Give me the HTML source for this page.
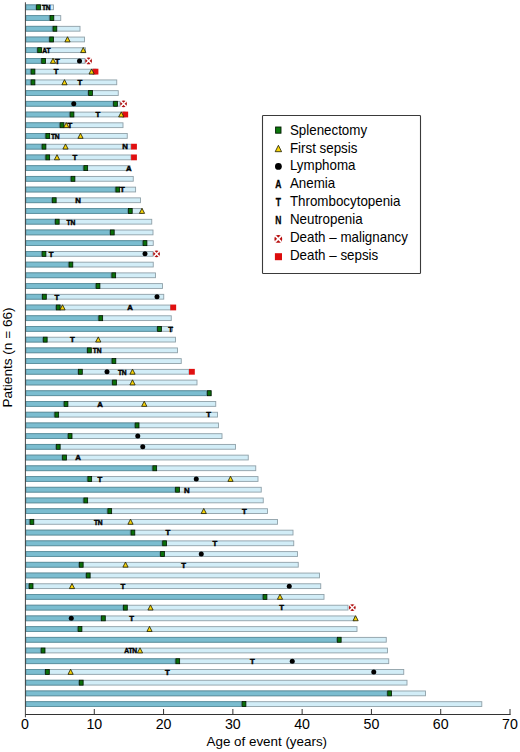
<!DOCTYPE html>
<html><head><meta charset="utf-8"><style>
html,body{margin:0;padding:0;background:#fff;width:520px;height:752px;overflow:hidden}
svg{display:block}
text{font-family:"Liberation Sans",sans-serif;fill:#000}
.m{font-size:7.8px;font-weight:bold;stroke:#000;stroke-width:0.45px}
.ml{font-size:10px;font-weight:bold;stroke:#000;stroke-width:0.3px}
.tk{font-size:14.2px}
.lab{font-size:13px}
.lg{font-size:14px}
</style></head><body>
<svg width="520" height="752" viewBox="0 0 520 752">
<rect width="520" height="752" fill="#fff"/>
<rect x="25.9" y="4.9" width="27.6" height="4.8" fill="#d2edf7" stroke="#8fa0a8" stroke-width="0.9"/>
<rect x="25.9" y="4.9" width="9.9" height="4.8" fill="#7bbdd0" stroke="#5a909e" stroke-width="0.9"/>
<rect x="25.9" y="15.62" width="34.85" height="4.8" fill="#d2edf7" stroke="#8fa0a8" stroke-width="0.9"/>
<rect x="25.9" y="15.62" width="23.3" height="4.8" fill="#7bbdd0" stroke="#5a909e" stroke-width="0.9"/>
<rect x="25.9" y="26.34" width="54.1" height="4.8" fill="#d2edf7" stroke="#8fa0a8" stroke-width="0.9"/>
<rect x="25.9" y="26.34" width="26.3" height="4.8" fill="#7bbdd0" stroke="#5a909e" stroke-width="0.9"/>
<rect x="25.9" y="37.06" width="58.6" height="4.8" fill="#d2edf7" stroke="#8fa0a8" stroke-width="0.9"/>
<rect x="25.9" y="37.06" width="23" height="4.8" fill="#7bbdd0" stroke="#5a909e" stroke-width="0.9"/>
<rect x="25.9" y="47.78" width="59.6" height="4.8" fill="#d2edf7" stroke="#8fa0a8" stroke-width="0.9"/>
<rect x="25.9" y="47.78" width="11" height="4.8" fill="#7bbdd0" stroke="#5a909e" stroke-width="0.9"/>
<rect x="25.9" y="58.5" width="59.1" height="4.8" fill="#d2edf7" stroke="#8fa0a8" stroke-width="0.9"/>
<rect x="25.9" y="58.5" width="15" height="4.8" fill="#7bbdd0" stroke="#5a909e" stroke-width="0.9"/>
<rect x="25.9" y="69.22" width="70.1" height="4.8" fill="#d2edf7" stroke="#8fa0a8" stroke-width="0.9"/>
<rect x="25.9" y="69.22" width="4.4" height="4.8" fill="#7bbdd0" stroke="#5a909e" stroke-width="0.9"/>
<rect x="25.9" y="79.94" width="90.85" height="4.8" fill="#d2edf7" stroke="#8fa0a8" stroke-width="0.9"/>
<rect x="25.9" y="79.94" width="4.4" height="4.8" fill="#7bbdd0" stroke="#5a909e" stroke-width="0.9"/>
<rect x="25.9" y="90.66" width="92.35" height="4.8" fill="#d2edf7" stroke="#8fa0a8" stroke-width="0.9"/>
<rect x="25.9" y="90.66" width="61.9" height="4.8" fill="#7bbdd0" stroke="#5a909e" stroke-width="0.9"/>
<rect x="25.9" y="101.38" width="94.1" height="4.8" fill="#d2edf7" stroke="#8fa0a8" stroke-width="0.9"/>
<rect x="25.9" y="101.38" width="86.9" height="4.8" fill="#7bbdd0" stroke="#5a909e" stroke-width="0.9"/>
<rect x="25.9" y="112.1" width="99.1" height="4.8" fill="#d2edf7" stroke="#8fa0a8" stroke-width="0.9"/>
<rect x="25.9" y="112.1" width="43.4" height="4.8" fill="#7bbdd0" stroke="#5a909e" stroke-width="0.9"/>
<rect x="25.9" y="122.82" width="97.1" height="4.8" fill="#d2edf7" stroke="#8fa0a8" stroke-width="0.9"/>
<rect x="25.9" y="122.82" width="33.4" height="4.8" fill="#7bbdd0" stroke="#5a909e" stroke-width="0.9"/>
<rect x="25.9" y="133.54" width="101.35" height="4.8" fill="#d2edf7" stroke="#8fa0a8" stroke-width="0.9"/>
<rect x="25.9" y="133.54" width="19.15" height="4.8" fill="#7bbdd0" stroke="#5a909e" stroke-width="0.9"/>
<rect x="25.9" y="144.26" width="105.1" height="4.8" fill="#d2edf7" stroke="#8fa0a8" stroke-width="0.9"/>
<rect x="25.9" y="144.26" width="15.4" height="4.8" fill="#7bbdd0" stroke="#5a909e" stroke-width="0.9"/>
<rect x="25.9" y="154.98" width="105.1" height="4.8" fill="#d2edf7" stroke="#8fa0a8" stroke-width="0.9"/>
<rect x="25.9" y="154.98" width="19.15" height="4.8" fill="#7bbdd0" stroke="#5a909e" stroke-width="0.9"/>
<rect x="25.9" y="165.7" width="104.1" height="4.8" fill="#d2edf7" stroke="#8fa0a8" stroke-width="0.9"/>
<rect x="25.9" y="165.7" width="57.15" height="4.8" fill="#7bbdd0" stroke="#5a909e" stroke-width="0.9"/>
<rect x="25.9" y="176.42" width="107.35" height="4.8" fill="#d2edf7" stroke="#8fa0a8" stroke-width="0.9"/>
<rect x="25.9" y="176.42" width="44.4" height="4.8" fill="#7bbdd0" stroke="#5a909e" stroke-width="0.9"/>
<rect x="25.9" y="187.14" width="109.7" height="4.8" fill="#d2edf7" stroke="#8fa0a8" stroke-width="0.9"/>
<rect x="25.9" y="187.14" width="89.15" height="4.8" fill="#7bbdd0" stroke="#5a909e" stroke-width="0.9"/>
<rect x="25.9" y="197.86" width="114.6" height="4.8" fill="#d2edf7" stroke="#8fa0a8" stroke-width="0.9"/>
<rect x="25.9" y="197.86" width="25.65" height="4.8" fill="#7bbdd0" stroke="#5a909e" stroke-width="0.9"/>
<rect x="25.9" y="208.58" width="116.1" height="4.8" fill="#d2edf7" stroke="#8fa0a8" stroke-width="0.9"/>
<rect x="25.9" y="208.58" width="101.7" height="4.8" fill="#7bbdd0" stroke="#5a909e" stroke-width="0.9"/>
<rect x="25.9" y="219.3" width="125.85" height="4.8" fill="#d2edf7" stroke="#8fa0a8" stroke-width="0.9"/>
<rect x="25.9" y="219.3" width="28.65" height="4.8" fill="#7bbdd0" stroke="#5a909e" stroke-width="0.9"/>
<rect x="25.9" y="230.02" width="127.1" height="4.8" fill="#d2edf7" stroke="#8fa0a8" stroke-width="0.9"/>
<rect x="25.9" y="230.02" width="83.7" height="4.8" fill="#7bbdd0" stroke="#5a909e" stroke-width="0.9"/>
<rect x="25.9" y="240.74" width="127.35" height="4.8" fill="#d2edf7" stroke="#8fa0a8" stroke-width="0.9"/>
<rect x="25.9" y="240.74" width="116.4" height="4.8" fill="#7bbdd0" stroke="#5a909e" stroke-width="0.9"/>
<rect x="25.9" y="251.46" width="127.1" height="4.8" fill="#d2edf7" stroke="#8fa0a8" stroke-width="0.9"/>
<rect x="25.9" y="251.46" width="15.4" height="4.8" fill="#7bbdd0" stroke="#5a909e" stroke-width="0.9"/>
<rect x="25.9" y="262.18" width="127.35" height="4.8" fill="#d2edf7" stroke="#8fa0a8" stroke-width="0.9"/>
<rect x="25.9" y="262.18" width="42.3" height="4.8" fill="#7bbdd0" stroke="#5a909e" stroke-width="0.9"/>
<rect x="25.9" y="272.9" width="129.6" height="4.8" fill="#d2edf7" stroke="#8fa0a8" stroke-width="0.9"/>
<rect x="25.9" y="272.9" width="85.15" height="4.8" fill="#7bbdd0" stroke="#5a909e" stroke-width="0.9"/>
<rect x="25.9" y="283.62" width="136.6" height="4.8" fill="#d2edf7" stroke="#8fa0a8" stroke-width="0.9"/>
<rect x="25.9" y="283.62" width="69.4" height="4.8" fill="#7bbdd0" stroke="#5a909e" stroke-width="0.9"/>
<rect x="25.9" y="294.34" width="137.85" height="4.8" fill="#d2edf7" stroke="#8fa0a8" stroke-width="0.9"/>
<rect x="25.9" y="294.34" width="15.8" height="4.8" fill="#7bbdd0" stroke="#5a909e" stroke-width="0.9"/>
<rect x="25.9" y="305.06" width="144.6" height="4.8" fill="#d2edf7" stroke="#8fa0a8" stroke-width="0.9"/>
<rect x="25.9" y="305.06" width="29.65" height="4.8" fill="#7bbdd0" stroke="#5a909e" stroke-width="0.9"/>
<rect x="25.9" y="315.78" width="145.35" height="4.8" fill="#d2edf7" stroke="#8fa0a8" stroke-width="0.9"/>
<rect x="25.9" y="315.78" width="72.15" height="4.8" fill="#7bbdd0" stroke="#5a909e" stroke-width="0.9"/>
<rect x="25.9" y="326.5" width="146.6" height="4.8" fill="#d2edf7" stroke="#8fa0a8" stroke-width="0.9"/>
<rect x="25.9" y="326.5" width="130.9" height="4.8" fill="#7bbdd0" stroke="#5a909e" stroke-width="0.9"/>
<rect x="25.9" y="337.22" width="149.6" height="4.8" fill="#d2edf7" stroke="#8fa0a8" stroke-width="0.9"/>
<rect x="25.9" y="337.22" width="16.65" height="4.8" fill="#7bbdd0" stroke="#5a909e" stroke-width="0.9"/>
<rect x="25.9" y="347.94" width="151.6" height="4.8" fill="#d2edf7" stroke="#8fa0a8" stroke-width="0.9"/>
<rect x="25.9" y="347.94" width="60.8" height="4.8" fill="#7bbdd0" stroke="#5a909e" stroke-width="0.9"/>
<rect x="25.9" y="358.66" width="155.35" height="4.8" fill="#d2edf7" stroke="#8fa0a8" stroke-width="0.9"/>
<rect x="25.9" y="358.66" width="85.3" height="4.8" fill="#7bbdd0" stroke="#5a909e" stroke-width="0.9"/>
<rect x="25.9" y="369.38" width="163.1" height="4.8" fill="#d2edf7" stroke="#8fa0a8" stroke-width="0.9"/>
<rect x="25.9" y="369.38" width="51.8" height="4.8" fill="#7bbdd0" stroke="#5a909e" stroke-width="0.9"/>
<rect x="25.9" y="380.1" width="171.1" height="4.8" fill="#d2edf7" stroke="#8fa0a8" stroke-width="0.9"/>
<rect x="25.9" y="380.1" width="85.9" height="4.8" fill="#7bbdd0" stroke="#5a909e" stroke-width="0.9"/>
<rect x="25.9" y="390.82" width="185.1" height="4.8" fill="#d2edf7" stroke="#8fa0a8" stroke-width="0.9"/>
<rect x="25.9" y="390.82" width="180.65" height="4.8" fill="#7bbdd0" stroke="#5a909e" stroke-width="0.9"/>
<rect x="25.9" y="401.54" width="189.85" height="4.8" fill="#d2edf7" stroke="#8fa0a8" stroke-width="0.9"/>
<rect x="25.9" y="401.54" width="37.4" height="4.8" fill="#7bbdd0" stroke="#5a909e" stroke-width="0.9"/>
<rect x="25.9" y="412.26" width="191.6" height="4.8" fill="#d2edf7" stroke="#8fa0a8" stroke-width="0.9"/>
<rect x="25.9" y="412.26" width="28.15" height="4.8" fill="#7bbdd0" stroke="#5a909e" stroke-width="0.9"/>
<rect x="25.9" y="422.98" width="192.6" height="4.8" fill="#d2edf7" stroke="#8fa0a8" stroke-width="0.9"/>
<rect x="25.9" y="422.98" width="108.5" height="4.8" fill="#7bbdd0" stroke="#5a909e" stroke-width="0.9"/>
<rect x="25.9" y="433.7" width="196.1" height="4.8" fill="#d2edf7" stroke="#8fa0a8" stroke-width="0.9"/>
<rect x="25.9" y="433.7" width="41.5" height="4.8" fill="#7bbdd0" stroke="#5a909e" stroke-width="0.9"/>
<rect x="25.9" y="444.42" width="209.6" height="4.8" fill="#d2edf7" stroke="#8fa0a8" stroke-width="0.9"/>
<rect x="25.9" y="444.42" width="29.65" height="4.8" fill="#7bbdd0" stroke="#5a909e" stroke-width="0.9"/>
<rect x="25.9" y="455.14" width="222.35" height="4.8" fill="#d2edf7" stroke="#8fa0a8" stroke-width="0.9"/>
<rect x="25.9" y="455.14" width="35.9" height="4.8" fill="#7bbdd0" stroke="#5a909e" stroke-width="0.9"/>
<rect x="25.9" y="465.86" width="229.85" height="4.8" fill="#d2edf7" stroke="#8fa0a8" stroke-width="0.9"/>
<rect x="25.9" y="465.86" width="126.15" height="4.8" fill="#7bbdd0" stroke="#5a909e" stroke-width="0.9"/>
<rect x="25.9" y="476.58" width="232.1" height="4.8" fill="#d2edf7" stroke="#8fa0a8" stroke-width="0.9"/>
<rect x="25.9" y="476.58" width="61.15" height="4.8" fill="#7bbdd0" stroke="#5a909e" stroke-width="0.9"/>
<rect x="25.9" y="487.3" width="235.35" height="4.8" fill="#d2edf7" stroke="#8fa0a8" stroke-width="0.9"/>
<rect x="25.9" y="487.3" width="148.9" height="4.8" fill="#7bbdd0" stroke="#5a909e" stroke-width="0.9"/>
<rect x="25.9" y="498.02" width="237.35" height="4.8" fill="#d2edf7" stroke="#8fa0a8" stroke-width="0.9"/>
<rect x="25.9" y="498.02" width="57.15" height="4.8" fill="#7bbdd0" stroke="#5a909e" stroke-width="0.9"/>
<rect x="25.9" y="508.74" width="241.6" height="4.8" fill="#d2edf7" stroke="#8fa0a8" stroke-width="0.9"/>
<rect x="25.9" y="508.74" width="81.15" height="4.8" fill="#7bbdd0" stroke="#5a909e" stroke-width="0.9"/>
<rect x="25.9" y="519.46" width="251.6" height="4.8" fill="#d2edf7" stroke="#8fa0a8" stroke-width="0.9"/>
<rect x="25.9" y="519.46" width="3.3" height="4.8" fill="#7bbdd0" stroke="#5a909e" stroke-width="0.9"/>
<rect x="25.9" y="530.18" width="267.1" height="4.8" fill="#d2edf7" stroke="#8fa0a8" stroke-width="0.9"/>
<rect x="25.9" y="530.18" width="104.3" height="4.8" fill="#7bbdd0" stroke="#5a909e" stroke-width="0.9"/>
<rect x="25.9" y="540.9" width="267.85" height="4.8" fill="#d2edf7" stroke="#8fa0a8" stroke-width="0.9"/>
<rect x="25.9" y="540.9" width="136" height="4.8" fill="#7bbdd0" stroke="#5a909e" stroke-width="0.9"/>
<rect x="25.9" y="551.62" width="271.6" height="4.8" fill="#d2edf7" stroke="#8fa0a8" stroke-width="0.9"/>
<rect x="25.9" y="551.62" width="133.9" height="4.8" fill="#7bbdd0" stroke="#5a909e" stroke-width="0.9"/>
<rect x="25.9" y="562.34" width="272.35" height="4.8" fill="#d2edf7" stroke="#8fa0a8" stroke-width="0.9"/>
<rect x="25.9" y="562.34" width="52.65" height="4.8" fill="#7bbdd0" stroke="#5a909e" stroke-width="0.9"/>
<rect x="25.9" y="573.06" width="293.6" height="4.8" fill="#d2edf7" stroke="#8fa0a8" stroke-width="0.9"/>
<rect x="25.9" y="573.06" width="59.65" height="4.8" fill="#7bbdd0" stroke="#5a909e" stroke-width="0.9"/>
<rect x="25.9" y="583.78" width="294.85" height="4.8" fill="#d2edf7" stroke="#8fa0a8" stroke-width="0.9"/>
<rect x="25.9" y="583.78" width="2.5" height="4.8" fill="#7bbdd0" stroke="#5a909e" stroke-width="0.9"/>
<rect x="25.9" y="594.5" width="298.1" height="4.8" fill="#d2edf7" stroke="#8fa0a8" stroke-width="0.9"/>
<rect x="25.9" y="594.5" width="236.4" height="4.8" fill="#7bbdd0" stroke="#5a909e" stroke-width="0.9"/>
<rect x="25.9" y="605.22" width="322.1" height="4.8" fill="#d2edf7" stroke="#8fa0a8" stroke-width="0.9"/>
<rect x="25.9" y="605.22" width="96.8" height="4.8" fill="#7bbdd0" stroke="#5a909e" stroke-width="0.9"/>
<rect x="25.9" y="615.94" width="328.6" height="4.8" fill="#d2edf7" stroke="#8fa0a8" stroke-width="0.9"/>
<rect x="25.9" y="615.94" width="74.8" height="4.8" fill="#7bbdd0" stroke="#5a909e" stroke-width="0.9"/>
<rect x="25.9" y="626.66" width="331.1" height="4.8" fill="#d2edf7" stroke="#8fa0a8" stroke-width="0.9"/>
<rect x="25.9" y="626.66" width="51.4" height="4.8" fill="#7bbdd0" stroke="#5a909e" stroke-width="0.9"/>
<rect x="25.9" y="637.38" width="360.35" height="4.8" fill="#d2edf7" stroke="#8fa0a8" stroke-width="0.9"/>
<rect x="25.9" y="637.38" width="310.65" height="4.8" fill="#7bbdd0" stroke="#5a909e" stroke-width="0.9"/>
<rect x="25.9" y="648.1" width="361.6" height="4.8" fill="#d2edf7" stroke="#8fa0a8" stroke-width="0.9"/>
<rect x="25.9" y="648.1" width="14.5" height="4.8" fill="#7bbdd0" stroke="#5a909e" stroke-width="0.9"/>
<rect x="25.9" y="658.82" width="362.85" height="4.8" fill="#d2edf7" stroke="#8fa0a8" stroke-width="0.9"/>
<rect x="25.9" y="658.82" width="149.15" height="4.8" fill="#7bbdd0" stroke="#5a909e" stroke-width="0.9"/>
<rect x="25.9" y="669.54" width="377.85" height="4.8" fill="#d2edf7" stroke="#8fa0a8" stroke-width="0.9"/>
<rect x="25.9" y="669.54" width="18.8" height="4.8" fill="#7bbdd0" stroke="#5a909e" stroke-width="0.9"/>
<rect x="25.9" y="680.26" width="381.1" height="4.8" fill="#d2edf7" stroke="#8fa0a8" stroke-width="0.9"/>
<rect x="25.9" y="680.26" width="52.65" height="4.8" fill="#7bbdd0" stroke="#5a909e" stroke-width="0.9"/>
<rect x="25.9" y="690.98" width="399.6" height="4.8" fill="#d2edf7" stroke="#8fa0a8" stroke-width="0.9"/>
<rect x="25.9" y="690.98" width="361" height="4.8" fill="#7bbdd0" stroke="#5a909e" stroke-width="0.9"/>
<rect x="25.9" y="701.7" width="455.9" height="4.8" fill="#d2edf7" stroke="#8fa0a8" stroke-width="0.9"/>
<rect x="25.9" y="701.7" width="215.4" height="4.8" fill="#7bbdd0" stroke="#5a909e" stroke-width="0.9"/>
<rect x="36.6" y="4.8" width="3.8" height="5" fill="#0a700a" stroke="#001400" stroke-width="0.8"/>
<text transform="translate(42,10.1) scale(0.86,1)" class="m" letter-spacing="-0.3">TN</text>
<rect x="50" y="15.52" width="3.8" height="5" fill="#0a700a" stroke="#001400" stroke-width="0.8"/>
<rect x="53" y="26.24" width="3.8" height="5" fill="#0a700a" stroke="#001400" stroke-width="0.8"/>
<rect x="49.7" y="36.96" width="3.8" height="5" fill="#0a700a" stroke="#001400" stroke-width="0.8"/>
<path d="M67.5 36.76L70.1 41.86L64.9 41.86Z" fill="#f7d40a" stroke="#1a1a00" stroke-width="0.8" stroke-linejoin="round"/>
<rect x="37.7" y="47.68" width="3.8" height="5" fill="#0a700a" stroke="#001400" stroke-width="0.8"/>
<text transform="translate(42.3,52.98) scale(0.86,1)" class="m" letter-spacing="-0.3">AT</text>
<path d="M83.25 47.48L85.85 52.58L80.65 52.58Z" fill="#f7d40a" stroke="#1a1a00" stroke-width="0.8" stroke-linejoin="round"/>
<rect x="41.7" y="58.4" width="3.8" height="5" fill="#0a700a" stroke="#001400" stroke-width="0.8"/>
<g transform="translate(88.6,60.9)"><circle r="3.35" fill="#b01010"/><path d="M-2.6 -2.6L2.6 2.6M2.6 -2.6L-2.6 2.6" stroke="#fff" stroke-width="1.5"/></g>
<path d="M53 58.2L55.6 63.3L50.4 63.3Z" fill="#f7d40a" stroke="#1a1a00" stroke-width="0.8" stroke-linejoin="round"/>
<text x="57.5" y="63.7" class="m" text-anchor="middle">T</text>
<circle cx="79.5" cy="60.9" r="2.5" fill="#000"/>
<rect x="31.1" y="69.12" width="3.8" height="5" fill="#0a700a" stroke="#001400" stroke-width="0.8"/>
<rect x="92.6" y="68.72" width="5.8" height="5.8" fill="#e01010"/>
<text x="56.25" y="74.42" class="m" text-anchor="middle">T</text>
<path d="M91.6 68.92L94.2 74.02L89 74.02Z" fill="#f7d40a" stroke="#1a1a00" stroke-width="0.8" stroke-linejoin="round"/>
<rect x="31.1" y="79.84" width="3.8" height="5" fill="#0a700a" stroke="#001400" stroke-width="0.8"/>
<path d="M64.5 79.64L67.1 84.74L61.9 84.74Z" fill="#f7d40a" stroke="#1a1a00" stroke-width="0.8" stroke-linejoin="round"/>
<text x="80" y="85.14" class="m" text-anchor="middle">T</text>
<rect x="88.6" y="90.56" width="3.8" height="5" fill="#0a700a" stroke="#001400" stroke-width="0.8"/>
<rect x="113.6" y="101.28" width="3.8" height="5" fill="#0a700a" stroke="#001400" stroke-width="0.8"/>
<g transform="translate(123.55,103.78)"><circle r="3.35" fill="#b01010"/><path d="M-2.6 -2.6L2.6 2.6M2.6 -2.6L-2.6 2.6" stroke="#fff" stroke-width="1.5"/></g>
<circle cx="73.75" cy="103.78" r="2.5" fill="#000"/>
<rect x="70.1" y="112" width="3.8" height="5" fill="#0a700a" stroke="#001400" stroke-width="0.8"/>
<rect x="122.35" y="111.6" width="5.8" height="5.8" fill="#e01010"/>
<text x="98" y="117.3" class="m" text-anchor="middle">T</text>
<path d="M121.25 111.8L123.85 116.9L118.65 116.9Z" fill="#f7d40a" stroke="#1a1a00" stroke-width="0.8" stroke-linejoin="round"/>
<rect x="60.1" y="122.72" width="3.8" height="5" fill="#0a700a" stroke="#001400" stroke-width="0.8"/>
<path d="M66.25 122.52L68.85 127.62L63.65 127.62Z" fill="#f7d40a" stroke="#1a1a00" stroke-width="0.8" stroke-linejoin="round"/>
<text x="70" y="128.02" class="m" text-anchor="middle">T</text>
<rect x="45.85" y="133.44" width="3.8" height="5" fill="#0a700a" stroke="#001400" stroke-width="0.8"/>
<text transform="translate(51,138.74) scale(0.86,1)" class="m" letter-spacing="-0.3">TN</text>
<path d="M80.5 133.24L83.1 138.34L77.9 138.34Z" fill="#f7d40a" stroke="#1a1a00" stroke-width="0.8" stroke-linejoin="round"/>
<rect x="42.1" y="144.16" width="3.8" height="5" fill="#0a700a" stroke="#001400" stroke-width="0.8"/>
<rect x="131.1" y="143.76" width="5.8" height="5.8" fill="#e01010"/>
<path d="M65.5 143.96L68.1 149.06L62.9 149.06Z" fill="#f7d40a" stroke="#1a1a00" stroke-width="0.8" stroke-linejoin="round"/>
<text x="125" y="149.46" class="m" text-anchor="middle">N</text>
<rect x="45.85" y="154.88" width="3.8" height="5" fill="#0a700a" stroke="#001400" stroke-width="0.8"/>
<rect x="131.1" y="154.48" width="5.8" height="5.8" fill="#e01010"/>
<path d="M57 154.68L59.6 159.78L54.4 159.78Z" fill="#f7d40a" stroke="#1a1a00" stroke-width="0.8" stroke-linejoin="round"/>
<text x="75" y="160.18" class="m" text-anchor="middle">T</text>
<rect x="83.85" y="165.6" width="3.8" height="5" fill="#0a700a" stroke="#001400" stroke-width="0.8"/>
<text x="128.75" y="170.9" class="m" text-anchor="middle">A</text>
<rect x="71.1" y="176.32" width="3.8" height="5" fill="#0a700a" stroke="#001400" stroke-width="0.8"/>
<rect x="115.85" y="187.04" width="3.8" height="5" fill="#0a700a" stroke="#001400" stroke-width="0.8"/>
<text x="122.5" y="192.34" class="m" text-anchor="middle">T</text>
<rect x="52.35" y="197.76" width="3.8" height="5" fill="#0a700a" stroke="#001400" stroke-width="0.8"/>
<text x="78" y="203.06" class="m" text-anchor="middle">N</text>
<rect x="128.4" y="208.48" width="3.8" height="5" fill="#0a700a" stroke="#001400" stroke-width="0.8"/>
<path d="M142 208.28L144.6 213.38L139.4 213.38Z" fill="#f7d40a" stroke="#1a1a00" stroke-width="0.8" stroke-linejoin="round"/>
<rect x="55.35" y="219.2" width="3.8" height="5" fill="#0a700a" stroke="#001400" stroke-width="0.8"/>
<text transform="translate(66.6,224.5) scale(0.86,1)" class="m" letter-spacing="-0.3">TN</text>
<rect x="110.4" y="229.92" width="3.8" height="5" fill="#0a700a" stroke="#001400" stroke-width="0.8"/>
<rect x="143.1" y="240.64" width="3.8" height="5" fill="#0a700a" stroke="#001400" stroke-width="0.8"/>
<rect x="42.1" y="251.36" width="3.8" height="5" fill="#0a700a" stroke="#001400" stroke-width="0.8"/>
<g transform="translate(156.55,253.86)"><circle r="3.35" fill="#b01010"/><path d="M-2.6 -2.6L2.6 2.6M2.6 -2.6L-2.6 2.6" stroke="#fff" stroke-width="1.5"/></g>
<text x="51.25" y="256.66" class="m" text-anchor="middle">T</text>
<circle cx="145" cy="253.86" r="2.5" fill="#000"/>
<rect x="69" y="262.08" width="3.8" height="5" fill="#0a700a" stroke="#001400" stroke-width="0.8"/>
<rect x="111.85" y="272.8" width="3.8" height="5" fill="#0a700a" stroke="#001400" stroke-width="0.8"/>
<rect x="96.1" y="283.52" width="3.8" height="5" fill="#0a700a" stroke="#001400" stroke-width="0.8"/>
<rect x="42.5" y="294.24" width="3.8" height="5" fill="#0a700a" stroke="#001400" stroke-width="0.8"/>
<text x="57" y="299.54" class="m" text-anchor="middle">T</text>
<circle cx="157" cy="296.74" r="2.5" fill="#000"/>
<rect x="56.35" y="304.96" width="3.8" height="5" fill="#0a700a" stroke="#001400" stroke-width="0.8"/>
<rect x="170.35" y="304.56" width="5.8" height="5.8" fill="#e01010"/>
<path d="M62.5 304.76L65.1 309.86L59.9 309.86Z" fill="#f7d40a" stroke="#1a1a00" stroke-width="0.8" stroke-linejoin="round"/>
<text x="130" y="310.26" class="m" text-anchor="middle">A</text>
<rect x="98.85" y="315.68" width="3.8" height="5" fill="#0a700a" stroke="#001400" stroke-width="0.8"/>
<rect x="157.6" y="326.4" width="3.8" height="5" fill="#0a700a" stroke="#001400" stroke-width="0.8"/>
<text x="170.75" y="331.7" class="m" text-anchor="middle">T</text>
<rect x="43.35" y="337.12" width="3.8" height="5" fill="#0a700a" stroke="#001400" stroke-width="0.8"/>
<text x="72.5" y="342.42" class="m" text-anchor="middle">T</text>
<path d="M98.25 336.92L100.85 342.02L95.65 342.02Z" fill="#f7d40a" stroke="#1a1a00" stroke-width="0.8" stroke-linejoin="round"/>
<rect x="87.5" y="347.84" width="3.8" height="5" fill="#0a700a" stroke="#001400" stroke-width="0.8"/>
<text transform="translate(92.8,353.14) scale(0.86,1)" class="m" letter-spacing="-0.3">TN</text>
<rect x="112" y="358.56" width="3.8" height="5" fill="#0a700a" stroke="#001400" stroke-width="0.8"/>
<rect x="78.5" y="369.28" width="3.8" height="5" fill="#0a700a" stroke="#001400" stroke-width="0.8"/>
<rect x="189" y="368.88" width="5.8" height="5.8" fill="#e01010"/>
<circle cx="107" cy="371.78" r="2.5" fill="#000"/>
<text transform="translate(118,374.58) scale(0.86,1)" class="m" letter-spacing="-0.3">TN</text>
<path d="M132.5 369.08L135.1 374.18L129.9 374.18Z" fill="#f7d40a" stroke="#1a1a00" stroke-width="0.8" stroke-linejoin="round"/>
<rect x="112.6" y="380" width="3.8" height="5" fill="#0a700a" stroke="#001400" stroke-width="0.8"/>
<path d="M132.5 379.8L135.1 384.9L129.9 384.9Z" fill="#f7d40a" stroke="#1a1a00" stroke-width="0.8" stroke-linejoin="round"/>
<rect x="207.35" y="390.72" width="3.8" height="5" fill="#0a700a" stroke="#001400" stroke-width="0.8"/>
<rect x="64.1" y="401.44" width="3.8" height="5" fill="#0a700a" stroke="#001400" stroke-width="0.8"/>
<text x="100" y="406.74" class="m" text-anchor="middle">A</text>
<path d="M144.25 401.24L146.85 406.34L141.65 406.34Z" fill="#f7d40a" stroke="#1a1a00" stroke-width="0.8" stroke-linejoin="round"/>
<rect x="54.85" y="412.16" width="3.8" height="5" fill="#0a700a" stroke="#001400" stroke-width="0.8"/>
<text x="208.75" y="417.46" class="m" text-anchor="middle">T</text>
<rect x="135.2" y="422.88" width="3.8" height="5" fill="#0a700a" stroke="#001400" stroke-width="0.8"/>
<rect x="68.2" y="433.6" width="3.8" height="5" fill="#0a700a" stroke="#001400" stroke-width="0.8"/>
<circle cx="137.75" cy="436.1" r="2.5" fill="#000"/>
<rect x="56.35" y="444.32" width="3.8" height="5" fill="#0a700a" stroke="#001400" stroke-width="0.8"/>
<circle cx="142.75" cy="446.82" r="2.5" fill="#000"/>
<rect x="62.6" y="455.04" width="3.8" height="5" fill="#0a700a" stroke="#001400" stroke-width="0.8"/>
<text x="78" y="460.34" class="m" text-anchor="middle">A</text>
<rect x="152.85" y="465.76" width="3.8" height="5" fill="#0a700a" stroke="#001400" stroke-width="0.8"/>
<rect x="87.85" y="476.48" width="3.8" height="5" fill="#0a700a" stroke="#001400" stroke-width="0.8"/>
<text x="100" y="481.78" class="m" text-anchor="middle">T</text>
<circle cx="196.25" cy="478.98" r="2.5" fill="#000"/>
<path d="M230.5 476.28L233.1 481.38L227.9 481.38Z" fill="#f7d40a" stroke="#1a1a00" stroke-width="0.8" stroke-linejoin="round"/>
<rect x="175.6" y="487.2" width="3.8" height="5" fill="#0a700a" stroke="#001400" stroke-width="0.8"/>
<text x="186.75" y="492.5" class="m" text-anchor="middle">N</text>
<rect x="83.85" y="497.92" width="3.8" height="5" fill="#0a700a" stroke="#001400" stroke-width="0.8"/>
<rect x="107.85" y="508.64" width="3.8" height="5" fill="#0a700a" stroke="#001400" stroke-width="0.8"/>
<path d="M203.75 508.44L206.35 513.54L201.15 513.54Z" fill="#f7d40a" stroke="#1a1a00" stroke-width="0.8" stroke-linejoin="round"/>
<text x="244.5" y="513.94" class="m" text-anchor="middle">T</text>
<rect x="30" y="519.36" width="3.8" height="5" fill="#0a700a" stroke="#001400" stroke-width="0.8"/>
<text transform="translate(94,524.66) scale(0.86,1)" class="m" letter-spacing="-0.3">TN</text>
<path d="M130.5 519.16L133.1 524.26L127.9 524.26Z" fill="#f7d40a" stroke="#1a1a00" stroke-width="0.8" stroke-linejoin="round"/>
<rect x="131" y="530.08" width="3.8" height="5" fill="#0a700a" stroke="#001400" stroke-width="0.8"/>
<text x="168" y="535.38" class="m" text-anchor="middle">T</text>
<rect x="162.7" y="540.8" width="3.8" height="5" fill="#0a700a" stroke="#001400" stroke-width="0.8"/>
<text x="215" y="546.1" class="m" text-anchor="middle">T</text>
<rect x="160.6" y="551.52" width="3.8" height="5" fill="#0a700a" stroke="#001400" stroke-width="0.8"/>
<circle cx="201.25" cy="554.02" r="2.5" fill="#000"/>
<rect x="79.35" y="562.24" width="3.8" height="5" fill="#0a700a" stroke="#001400" stroke-width="0.8"/>
<path d="M125.5 562.04L128.1 567.14L122.9 567.14Z" fill="#f7d40a" stroke="#1a1a00" stroke-width="0.8" stroke-linejoin="round"/>
<text x="183.75" y="567.54" class="m" text-anchor="middle">T</text>
<rect x="86.35" y="572.96" width="3.8" height="5" fill="#0a700a" stroke="#001400" stroke-width="0.8"/>
<rect x="29.2" y="583.68" width="3.8" height="5" fill="#0a700a" stroke="#001400" stroke-width="0.8"/>
<path d="M72 583.48L74.6 588.58L69.4 588.58Z" fill="#f7d40a" stroke="#1a1a00" stroke-width="0.8" stroke-linejoin="round"/>
<text x="123" y="588.98" class="m" text-anchor="middle">T</text>
<circle cx="289.25" cy="586.18" r="2.5" fill="#000"/>
<rect x="263.1" y="594.4" width="3.8" height="5" fill="#0a700a" stroke="#001400" stroke-width="0.8"/>
<path d="M280 594.2L282.6 599.3L277.4 599.3Z" fill="#f7d40a" stroke="#1a1a00" stroke-width="0.8" stroke-linejoin="round"/>
<rect x="123.5" y="605.12" width="3.8" height="5" fill="#0a700a" stroke="#001400" stroke-width="0.8"/>
<g transform="translate(352.3,607.62)"><circle r="3.35" fill="#b01010"/><path d="M-2.6 -2.6L2.6 2.6M2.6 -2.6L-2.6 2.6" stroke="#fff" stroke-width="1.5"/></g>
<path d="M150.5 604.92L153.1 610.02L147.9 610.02Z" fill="#f7d40a" stroke="#1a1a00" stroke-width="0.8" stroke-linejoin="round"/>
<text x="281.75" y="610.42" class="m" text-anchor="middle">T</text>
<rect x="101.5" y="615.84" width="3.8" height="5" fill="#0a700a" stroke="#001400" stroke-width="0.8"/>
<circle cx="71.25" cy="618.34" r="2.5" fill="#000"/>
<text x="131.75" y="621.14" class="m" text-anchor="middle">T</text>
<path d="M355.6 615.64L358.2 620.74L353 620.74Z" fill="#f7d40a" stroke="#1a1a00" stroke-width="0.8" stroke-linejoin="round"/>
<rect x="78.1" y="626.56" width="3.8" height="5" fill="#0a700a" stroke="#001400" stroke-width="0.8"/>
<path d="M149.5 626.36L152.1 631.46L146.9 631.46Z" fill="#f7d40a" stroke="#1a1a00" stroke-width="0.8" stroke-linejoin="round"/>
<rect x="337.35" y="637.28" width="3.8" height="5" fill="#0a700a" stroke="#001400" stroke-width="0.8"/>
<rect x="41.2" y="648" width="3.8" height="5" fill="#0a700a" stroke="#001400" stroke-width="0.8"/>
<text transform="translate(124.3,653.3) scale(0.86,1)" class="m" letter-spacing="-0.3">ATN</text>
<path d="M140 647.8L142.6 652.9L137.4 652.9Z" fill="#f7d40a" stroke="#1a1a00" stroke-width="0.8" stroke-linejoin="round"/>
<rect x="175.85" y="658.72" width="3.8" height="5" fill="#0a700a" stroke="#001400" stroke-width="0.8"/>
<text x="252.5" y="664.02" class="m" text-anchor="middle">T</text>
<circle cx="292.25" cy="661.22" r="2.5" fill="#000"/>
<rect x="45.5" y="669.44" width="3.8" height="5" fill="#0a700a" stroke="#001400" stroke-width="0.8"/>
<path d="M70.6 669.24L73.2 674.34L68 674.34Z" fill="#f7d40a" stroke="#1a1a00" stroke-width="0.8" stroke-linejoin="round"/>
<text x="167.5" y="674.74" class="m" text-anchor="middle">T</text>
<circle cx="373.75" cy="671.94" r="2.5" fill="#000"/>
<rect x="79.35" y="680.16" width="3.8" height="5" fill="#0a700a" stroke="#001400" stroke-width="0.8"/>
<rect x="387.7" y="690.88" width="3.8" height="5" fill="#0a700a" stroke="#001400" stroke-width="0.8"/>
<rect x="242.1" y="701.6" width="3.8" height="5" fill="#0a700a" stroke="#001400" stroke-width="0.8"/>
<path d="M25.4 2.3V717.3" fill="none" stroke="#3c3c3c" stroke-width="0.95"/>
<path d="M25.4 714.5H510.6" fill="none" stroke="#333" stroke-width="1.1"/>
<text x="25" y="728.8" class="tk" text-anchor="middle">0</text>
<path d="M94.29 714.5V709.0" stroke="#333" stroke-width="1"/>
<text x="94.29" y="728.8" class="tk" text-anchor="middle">10</text>
<path d="M163.57 714.5V709.0" stroke="#333" stroke-width="1"/>
<text x="163.57" y="728.8" class="tk" text-anchor="middle">20</text>
<path d="M232.86 714.5V709.0" stroke="#333" stroke-width="1"/>
<text x="232.86" y="728.8" class="tk" text-anchor="middle">30</text>
<path d="M302.14 714.5V709.0" stroke="#333" stroke-width="1"/>
<text x="302.14" y="728.8" class="tk" text-anchor="middle">40</text>
<path d="M371.43 714.5V709.0" stroke="#333" stroke-width="1"/>
<text x="371.43" y="728.8" class="tk" text-anchor="middle">50</text>
<path d="M440.71 714.5V709.0" stroke="#333" stroke-width="1"/>
<text x="440.71" y="728.8" class="tk" text-anchor="middle">60</text>
<path d="M510 714.5V709.0" stroke="#333" stroke-width="1"/>
<text x="510" y="728.8" class="tk" text-anchor="middle">70</text>
<text x="266.8" y="746.2" class="lab" text-anchor="middle" style="font-size:13.4px">Age of event (years)</text>
<text transform="translate(11.7,357.5) rotate(-90)" class="lab" text-anchor="middle" style="font-size:13.6px">Patients (n = 66)</text>
<rect x="262.5" y="115.5" width="158" height="158" rx="0.8" fill="#fff" stroke="#3a3a3a" stroke-width="1.1"/>
<rect x="275.6" y="127" width="5.4" height="6.2" fill="#0b780b" stroke="#001a00" stroke-width="0.9"/>
<text transform="translate(289.9,134.6) scale(0.955,1)" class="lg">Splenectomy</text>
<path d="M278.4 145.3L281.6 151.7L275.2 151.7Z" fill="#f7d40a" stroke="#1a1a00" stroke-width="0.8" stroke-linejoin="round"/>
<text transform="translate(289.9,152.51) scale(0.955,1)" class="lg">First sepsis</text>
<circle cx="278.4" cy="166.4" r="3.4" fill="#000"/>
<text transform="translate(289.9,170.42) scale(0.955,1)" class="lg">Lymphoma</text>
<text transform="translate(278.4,188.33) scale(0.85,1)" class="ml" text-anchor="middle">A</text>
<text transform="translate(289.9,188.33) scale(0.955,1)" class="lg">Anemia</text>
<text transform="translate(278.4,206.24) scale(0.85,1)" class="ml" text-anchor="middle">T</text>
<text transform="translate(289.9,206.24) scale(0.955,1)" class="lg">Thrombocytopenia</text>
<text transform="translate(278.4,224.15) scale(0.85,1)" class="ml" text-anchor="middle">N</text>
<text transform="translate(289.9,224.15) scale(0.955,1)" class="lg">Neutropenia</text>
<g transform="translate(278.3,238.9)"><circle r="3.9" fill="#b80e0e"/><path d="M-3 -3L3 3M3 -3L-3 3" stroke="#fff" stroke-width="1.7"/></g>
<text transform="translate(289.9,242.06) scale(0.955,1)" class="lg">Death – malignancy</text>
<rect x="274.9" y="253.2" width="7.1" height="7" fill="#dc0c0c"/>
<text transform="translate(289.9,259.97) scale(0.955,1)" class="lg">Death – sepsis</text>
</svg>
</body></html>
